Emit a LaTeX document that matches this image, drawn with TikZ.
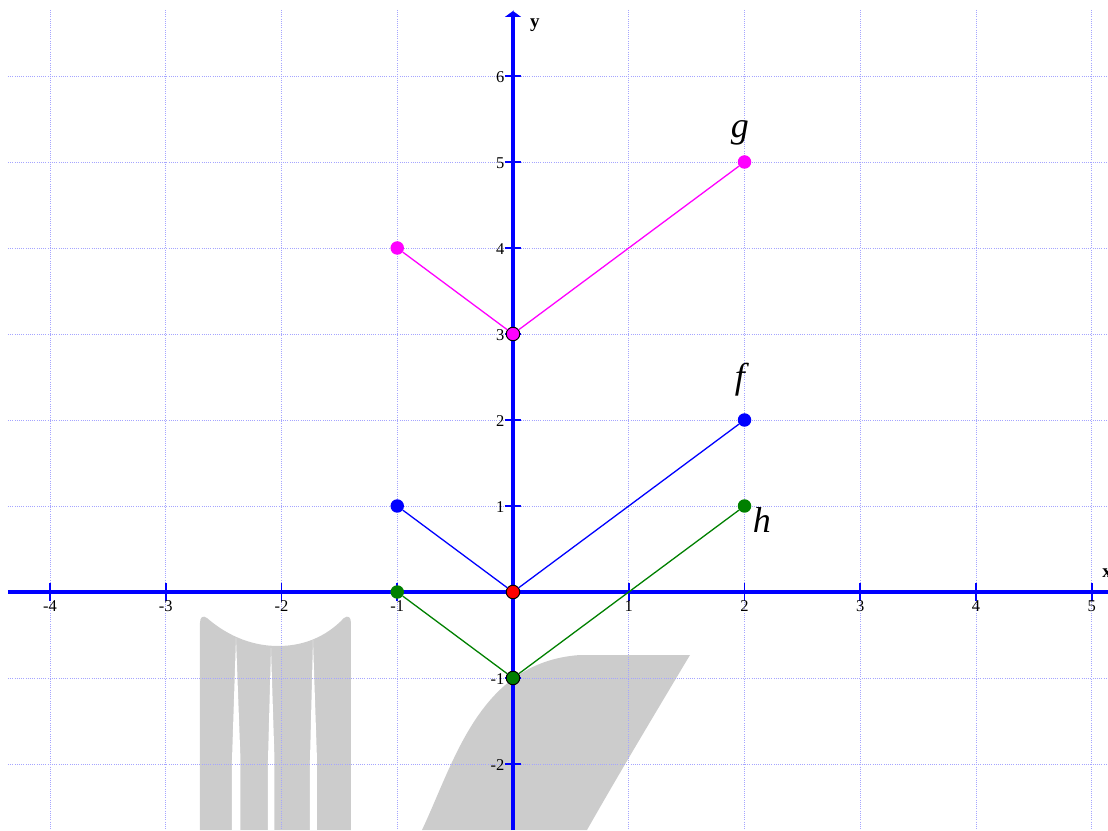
\documentclass[tikz,border=0pt]{standalone}
\usepackage{fontspec}
\setmainfont{Liberation Serif}
\usetikzlibrary{arrows.meta}
\definecolor{gridc}{RGB}{165,165,255}
\definecolor{wm}{RGB}{204,204,204}
\definecolor{hgreen}{RGB}{0,128,0}
\definecolor{gmag}{RGB}{255,0,255}
\definecolor{fblue}{RGB}{0,0,255}
\definecolor{fred}{RGB}{255,0,0}
\begin{document}
\begin{tikzpicture}[x=115.75pt,y=86pt,
  px/.style={x=1pt,y=-1pt,shift={(-513pt,592pt)}},
  gridline/.style={gridc, line width=0.9pt, dash pattern=on 1pt off 1.2pt},
  axisline/.style={fblue, line width=3.4pt},
  tickmark/.style={fblue, line width=1.8pt},
  ticklab/.style={font=\fontsize{16.5}{16.5}\selectfont, inner sep=0pt},
  axlab/.style={font=\fontsize{19}{19}\selectfont\bfseries, inner sep=0pt},
  dotpt/.style={circle, inner sep=0pt, minimum size=13.5pt},
  dotptb/.style={dotpt, draw=black, line width=1pt},
  fnlab/.style={font=\fontsize{36}{36}\selectfont\itshape, inner sep=0pt},
  seg/.style={line width=1.3pt}]
\useasboundingbox (-513pt,-238pt) rectangle (595pt,592pt);
\clip (-513pt,-238pt) rectangle (595pt,592pt);
% watermark (pixel coordinates)
\begin{scope}[px]
  \fill[wm] (200,830) -- (200,623) .. controls (200,617) and (203,615) .. (207,618)
    .. controls (230,638) and (255,646) .. (278,646)
    .. controls (302,646) and (325,638) .. (344,618)
    .. controls (348,615) and (351,617) .. (351,623) -- (351,830) -- cycle;
  \fill[white] (236,638) -- (240.5,760) -- (240.5,830) -- (232,830) -- (232,760) -- cycle;
  \fill[white] (271,648) -- (274.5,760) -- (274.5,830) -- (268,830) -- (268,760) -- cycle;
  \fill[white] (313,640) -- (317,760) -- (317,830) -- (310,830) -- (310,760) -- cycle;
  \fill[wm] (580,655) -- (690,655) .. controls (650,722) and (620,772) .. (587,830)
    -- (422,830) .. controls (455,760) and (480,662) .. (580,655) -- cycle;
\end{scope}
% grid
\foreach \i in {-4,...,5} \draw[gridline] (\i,6.77) -- (\i,-2.77);
\foreach \j in {-2,...,6} \draw[gridline] (-4.363,\j) -- (5.15,\j);
% axes
\coordinate (xs) at (-4.363,0);
\coordinate (xe) at (5.2,0);
\coordinate (ys) at (0,-2.77);
\coordinate (ye) at (0,6.756);
\draw[axisline] (xs) -- (xe);
\draw[axisline, -{Triangle[length=6pt,width=16pt]}] (ys) -- (ye);
\foreach \i in {-4,-3,-2,-1,1,2,3,4,5} {
  \draw[tickmark] ([yshift=-9pt]\i,0) -- ([yshift=9pt]\i,0);
  \node[ticklab, anchor=north] (xl\i) at ([yshift=-8.5pt]\i,0) {\i};
}
\foreach \j in {-2,-1,1,2,3,4,5,6} {
  \draw[tickmark] ([xshift=-8pt]0,\j) -- ([xshift=8pt]0,\j);
  \node[ticklab, anchor=east] (yl\j) at ([xshift=-8.5pt,yshift=-1pt]0,\j) {\j};
}
\node[axlab] (ylab) at (0.19,6.593) {y};
\node[axlab, anchor=west] (xlab) at (5.089,0.221) {x};
% g
\node[dotpt, fill=gmag] (g1) at (-1,4) {};
\node[dotptb, fill=gmag] (g0) at (0,3) {};
\node[dotpt, fill=gmag] (g2) at (2,5) {};
\draw[seg, gmag] (g1) -- (g0) -- (g2);
% f
\node[dotpt, fill=fblue] (f1) at (-1,1) {};
\node[dotptb, fill=fred] (f0) at (0,0) {};
\node[dotpt, fill=fblue] (f2) at (2,2) {};
\draw[seg, fblue] (f1) -- (f0) -- (f2);
% h
\node[dotpt, fill=hgreen] (h1) at (-1,0) {};
\node[dotptb, fill=hgreen] (h0) at (0,-1) {};
\node[dotpt, fill=hgreen] (h2) at (2,1) {};
\draw[seg, hgreen] (h1) -- (h0) -- (h2);
% labels
\node[fnlab] (lg) at (1.961,5.337) {g};
\node[fnlab] (lf) at (1.961,2.465) {f};
\node[fnlab] (lh) at (2.151,0.837) {h};
\end{tikzpicture}
\end{document}
